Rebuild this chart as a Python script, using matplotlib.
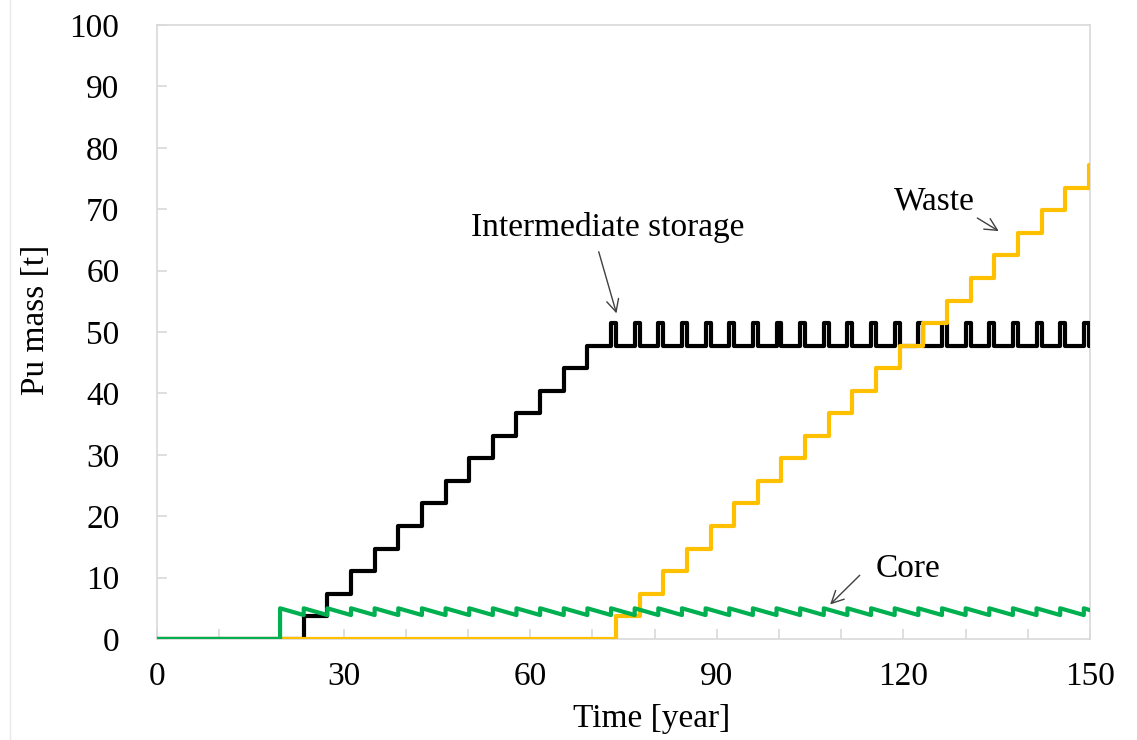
import matplotlib.pyplot as plt
from matplotlib.lines import Line2D

plt.rcParams['font.family'] = ['Liberation Serif', 'DejaVu Serif']

# Core reload times [year]
reload_years = [19.8, 23.6, 27.4, 31.2, 35.0, 38.8, 42.6, 46.4, 50.2, 54.0,
                57.8, 61.6, 65.4, 69.2, 73.0, 76.8, 80.6, 84.4, 88.2, 92.0,
                95.8, 99.6, 103.4, 107.2, 111.0, 114.8, 118.6, 122.4, 126.2,
                130.0, 133.8, 137.6, 141.4, 145.2, 149.0]

# Pu in core: jumps to peak at each reload, decays to trough
core_peak = 5.0
core_trough = 3.9
core_end = 4.7

# Intermediate storage build-up levels [t] (steps at reloads 2..14)
storage_levels = [3.7, 7.4, 11.0, 14.7, 18.4, 22.1, 25.7, 29.4, 33.1,
                  36.8, 40.4, 44.1, 47.8]
storage_pulse = 51.5
reprocess_delay = 0.8

# Waste levels [t] (one step per reload after storage is full)
waste_levels = [3.7, 7.4, 11.0, 14.7, 18.4, 22.1, 25.7, 29.4, 33.1, 36.8,
                40.4, 44.1, 47.8, 51.5, 55.1, 58.8, 62.5, 66.2, 69.8, 73.5,
                77.2]

t_end = 150

# ---- build step / sawtooth paths
core_x, core_y = [0, reload_years[0]], [0, 0]
for i, t in enumerate(reload_years):
    if i > 0:
        core_x.append(t)
        core_y.append(core_trough)
    core_x.append(t)
    core_y.append(core_peak)
core_x.append(t_end)
core_y.append(core_end)

n_fill = len(storage_levels)
stor_x, stor_y = [0], [0]
prev = 0
for t, lv in zip(reload_years[1:n_fill + 1], storage_levels):
    stor_x += [t, t]
    stor_y += [prev, lv]
    prev = lv
for t in reload_years[n_fill + 1:]:
    stor_x += [t, t, t + reprocess_delay, t + reprocess_delay]
    stor_y += [prev, storage_pulse, storage_pulse, prev]
stor_x.append(t_end)
stor_y.append(prev)

waste_x, waste_y = [0], [0]
prev = 0
for t, lv in zip(reload_years[n_fill + 1:], waste_levels):
    ts = t + reprocess_delay
    waste_x += [ts, ts]
    waste_y += [prev, lv]
    prev = lv
waste_x.append(t_end)
waste_y.append(prev)

fig = plt.figure(figsize=(11.37, 7.4), dpi=100)
ax = fig.add_axes([0.138, 0.1365, 0.8207, 0.8297])

lw = 3.0
ax.plot(stor_x, stor_y, color='black', lw=lw, zorder=3)
ax.plot(waste_x, waste_y, color='#FFC000', lw=lw, zorder=4)
ax.plot(core_x, core_y, color='#00B050', lw=lw, zorder=5)

ax.set_xlim(0, 150)
ax.set_ylim(0, 100)
ax.set_xticks(range(0, 151, 30))
ax.set_xticks(range(0, 151, 10), minor=True)
ax.set_yticks(range(0, 101, 10))

for s in ax.spines.values():
    s.set_color('#D9D9D9')
    s.set_linewidth(1.2)
ax.tick_params(axis='both', which='both', direction='in', color='#D9D9D9',
               width=1.2, length=7, labelsize=24)
ax.tick_params(axis='y', pad=27)
ax.tick_params(axis='x', pad=16)
ax.tick_params(top=False, right=False)

ax.set_xlabel('Time [year]', fontsize=24)
ax.set_ylabel('Pu mass [t]', fontsize=24)
ax.xaxis.set_label_coords(0.53, -0.105)
ax.yaxis.set_label_coords(-0.113, 0.52)

arrow = dict(arrowstyle='->', color='#404040', lw=1.0, mutation_scale=22)
ax.annotate('', xy=(74.0, 52.6), xytext=(70.9, 63.5), arrowprops=arrow)
ax.text(72.5, 67.0, 'Intermediate storage', fontsize=24, ha='center', va='center')
ax.annotate('', xy=(135.7, 66.2), xytext=(131.5, 68.8), arrowprops=arrow)
ax.text(124.9, 71.3, 'Waste', fontsize=24, ha='center', va='center')
ax.annotate('', xy=(107.9, 5.3), xytext=(113.3, 10.7), arrowprops=arrow)
ax.text(120.7, 11.4, 'Core', fontsize=24, ha='center', va='center')

fig.add_artist(Line2D([10 / 1137, 10 / 1137], [0, 1], color='#E8E8E8', lw=1))

fig.savefig('out.png', dpi=100)
